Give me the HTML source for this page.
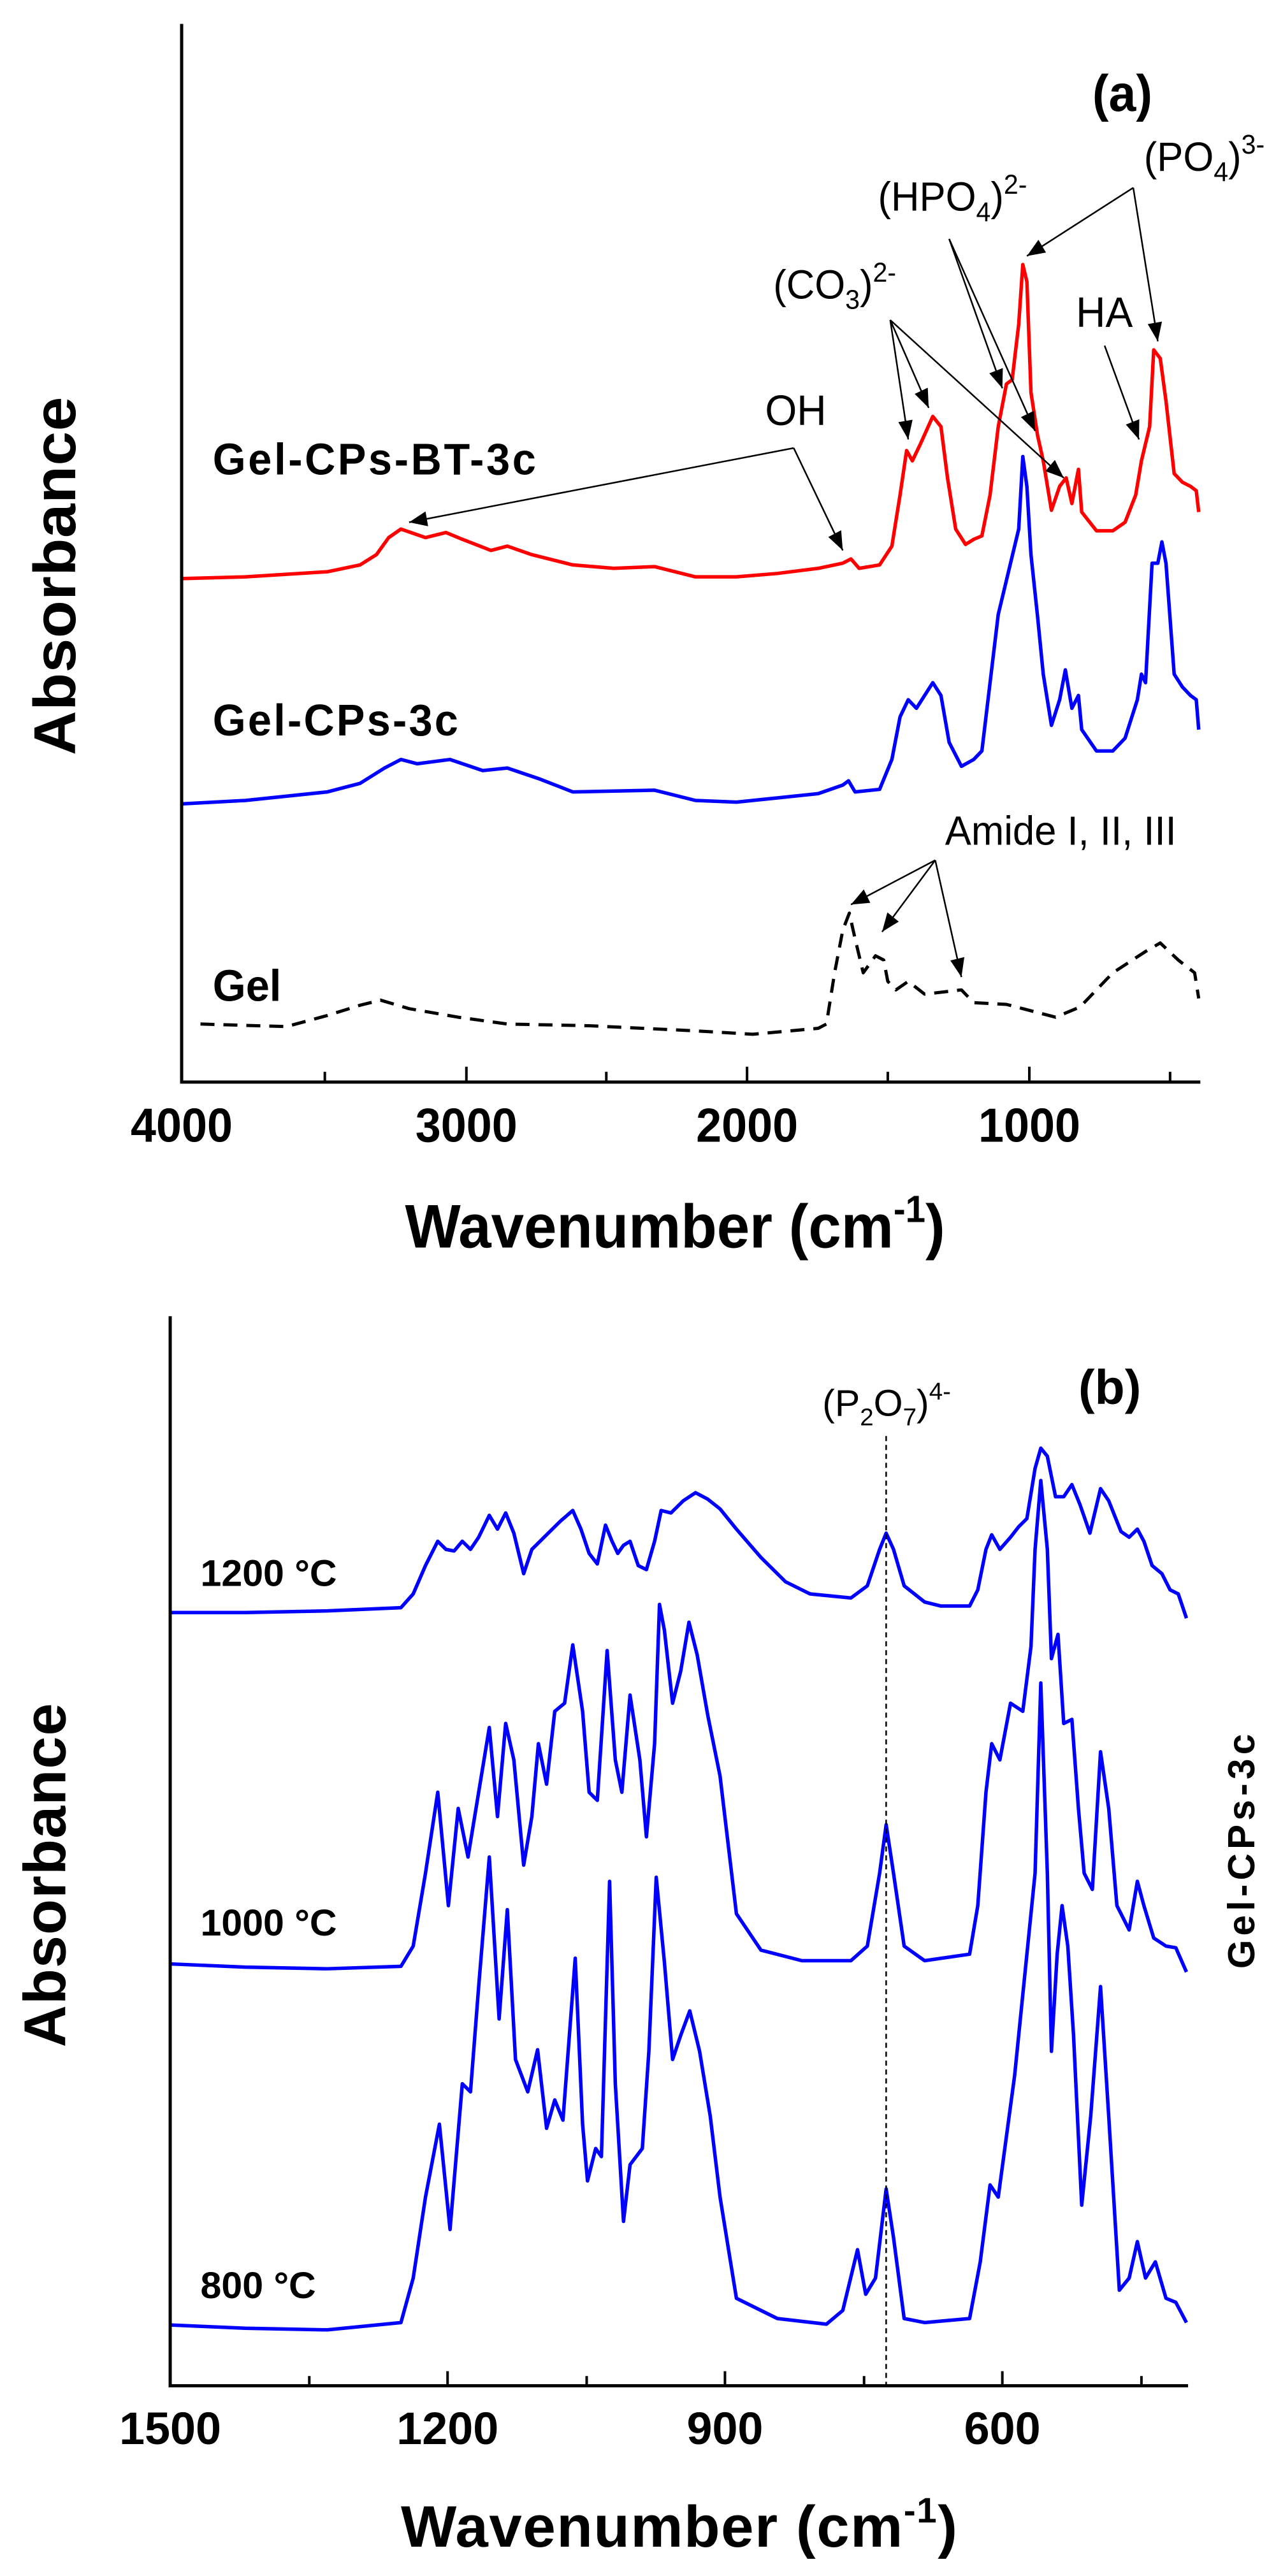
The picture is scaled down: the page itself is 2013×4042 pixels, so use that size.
<!DOCTYPE html>
<html><head><meta charset="utf-8"><style>html,body{margin:0;padding:0;background:#fff}svg{display:block}</style></head>
<body>
<svg width="2013" height="4042" viewBox="0 0 2013 4042" xmlns="http://www.w3.org/2000/svg" font-family="Liberation Sans, Arial, sans-serif">
<defs>
<marker id="ah2" viewBox="0 0 10 10" refX="10" refY="5" markerWidth="28" markerHeight="22" markerUnits="userSpaceOnUse" orient="auto"><path d="M0,1 L10,5 L0,9 z" fill="#000"/></marker>
</defs>
<!-- Panel A -->
<g transform="scale(1.2838,1.339)">
<g fill="none" stroke-linejoin="round">
<polyline vector-effect="non-scaling-stroke" stroke="#f00" stroke-width="5.5" points="222,678 300,676 400,670 440,662 460,650 475,630 490,620 505,625 520,630 545,624 565,632 600,645 620,640 650,650 700,662 750,666 800,664 850,676 900,676 950,672 1000,666 1030,660 1040,655 1050,666 1075,662 1090,640 1100,580 1108,528 1115,540 1125,520 1140,488 1150,500 1158,560 1168,620 1180,638 1190,632 1200,628 1210,580 1220,500 1230,450 1237,445 1245,380 1250,310 1255,330 1260,460 1268,510 1275,540 1285,598 1295,570 1303,560 1310,590 1318,550 1322,600 1340,622 1360,622 1375,612 1388,580 1395,540 1400,520 1405,500 1410,410 1418,420 1425,470 1435,555 1445,565 1455,570 1462,575 1465,600"/>
<polyline vector-effect="non-scaling-stroke" stroke="#00f" stroke-width="5.5" points="222,942 300,938 400,928 440,918 470,900 490,890 510,895 550,890 590,903 620,900 660,913 700,928 800,926 850,938 900,940 950,935 1000,930 1030,920 1037,915 1045,928 1075,925 1090,890 1100,840 1110,820 1120,830 1140,800 1150,815 1160,870 1175,898 1190,890 1200,880 1210,800 1220,720 1235,660 1245,620 1250,535 1255,570 1260,650 1268,722 1275,790 1285,850 1295,820 1302,785 1310,830 1318,815 1322,855 1340,880 1360,880 1375,865 1390,820 1395,790 1400,800 1408,660 1415,660 1420,635 1425,660 1435,790 1445,805 1455,815 1462,820 1465,855"/>
<polyline vector-effect="non-scaling-stroke" stroke="#000" stroke-width="5" stroke-dasharray="22,14" points="245,1200 350,1203 400,1190 440,1178 465,1172 500,1182 560,1192 620,1200 720,1202 850,1208 920,1212 1000,1205 1010,1200 1020,1140 1030,1090 1038,1070 1045,1100 1055,1140 1070,1120 1080,1125 1085,1150 1095,1160 1110,1150 1130,1165 1175,1160 1190,1175 1230,1177 1250,1182 1290,1192 1320,1180 1360,1140 1400,1115 1418,1105 1440,1125 1460,1140 1465,1170"/>
</g>
<g stroke="#000" fill="none">
<path vector-effect="non-scaling-stroke" stroke-width="5" d="M222,28 V1268 H1467"/>
<path vector-effect="non-scaling-stroke" stroke-width="4" d="M570,1268v-18 M913,1268v-18 M1258,1268v-18 M397,1268v-12 M741,1268v-12 M1085,1268v-12 M1430,1268v-12"/>
</g>
<g stroke="#000" stroke-width="2.5" fill="none">
<line vector-effect="non-scaling-stroke" x1="970" y1="525" x2="500" y2="612" marker-end="url(#ah2)"/>
<line vector-effect="non-scaling-stroke" x1="970" y1="525" x2="1030" y2="645" marker-end="url(#ah2)"/>
<line vector-effect="non-scaling-stroke" x1="1088" y1="375" x2="1110" y2="515" marker-end="url(#ah2)"/>
<line vector-effect="non-scaling-stroke" x1="1088" y1="375" x2="1135" y2="478" marker-end="url(#ah2)"/>
<line vector-effect="non-scaling-stroke" x1="1088" y1="375" x2="1300" y2="560" marker-end="url(#ah2)"/>
<line vector-effect="non-scaling-stroke" x1="1160" y1="280" x2="1225" y2="455" marker-end="url(#ah2)"/>
<line vector-effect="non-scaling-stroke" x1="1160" y1="280" x2="1265" y2="505" marker-end="url(#ah2)"/>
<line vector-effect="non-scaling-stroke" x1="1385" y1="220" x2="1255" y2="300" marker-end="url(#ah2)"/>
<line vector-effect="non-scaling-stroke" x1="1385" y1="220" x2="1415" y2="400" marker-end="url(#ah2)"/>
<line vector-effect="non-scaling-stroke" x1="1350" y1="405" x2="1392" y2="515" marker-end="url(#ah2)"/>
<line vector-effect="non-scaling-stroke" x1="1143" y1="1008" x2="1040" y2="1060" marker-end="url(#ah2)"/>
<line vector-effect="non-scaling-stroke" x1="1143" y1="1008" x2="1078" y2="1092" marker-end="url(#ah2)"/>
<line vector-effect="non-scaling-stroke" x1="1143" y1="1008" x2="1175" y2="1145" marker-end="url(#ah2)"/>
</g>
<g fill="#000">
<text x="1335" y="130" font-size="60" font-weight="bold">(a)</text>
<text x="1398" y="200" font-size="48">(PO<tspan font-size="32" dy="12">4</tspan><tspan dy="-12">)</tspan><tspan font-size="32" dy="-20">3-</tspan></text>
<text x="1073" y="247" font-size="48">(HPO<tspan font-size="32" dy="12">4</tspan><tspan dy="-12">)</tspan><tspan font-size="32" dy="-20">2-</tspan></text>
<text x="945" y="350" font-size="48">(CO<tspan font-size="32" dy="12">3</tspan><tspan dy="-12">)</tspan><tspan font-size="32" dy="-20">2-</tspan></text>
<text x="1315" y="383" font-size="50">HA</text>
<text x="935" y="498" font-size="50">OH</text>
<text x="1155" y="990" font-size="48">Amide I, II, III</text>
<text x="260" y="556" font-size="52" font-weight="bold" textLength="395">Gel-CPs-BT-3c</text>
<text x="260" y="862" font-size="52" font-weight="bold" textLength="300">Gel-CPs-3c</text>
<text x="260" y="1173" font-size="52" font-weight="bold">Gel</text>
<g font-size="56" font-weight="bold" text-anchor="middle">
<text x="222" y="1338">4000</text><text x="570" y="1338">3000</text><text x="913" y="1338">2000</text><text x="1258" y="1338">1000</text>
</g>
<text x="495" y="1462" font-size="72" font-weight="bold" textLength="660">Wavenumber (cm<tspan font-size="44" dy="-30">-1</tspan><tspan dy="30">)</tspan></text>
<text transform="translate(92,885) rotate(-90)" font-size="72" font-weight="bold" textLength="420">Absorbance</text>
</g>
</g>
<!-- Panel B -->
<g transform="translate(0,2050) scale(1.2838,1.2704)">
<g fill="none" stroke="#00f" stroke-width="5.5" stroke-linejoin="round">
<polyline vector-effect="non-scaling-stroke" points="208,378 300,378 400,376 490,372 505,355 520,320 535,290 545,300 555,302 565,290 575,300 585,285 598,258 608,275 618,255 628,280 640,330 650,300 660,290 670,280 685,265 700,252 710,275 720,305 730,318 740,270 748,290 755,305 762,295 770,290 780,320 790,325 800,290 808,252 820,255 835,240 850,230 865,238 880,250 900,275 930,310 960,340 990,355 1040,360 1060,345 1075,300 1083,280 1092,300 1105,345 1130,365 1150,370 1185,370 1195,350 1205,300 1212,282 1222,300 1235,285 1245,272 1255,262 1265,200 1272,175 1280,185 1290,235 1300,235 1310,220 1320,245 1332,280 1345,225 1355,240 1370,278 1380,285 1390,275 1398,290 1408,320 1420,330 1430,350 1440,355 1450,385"/>
<polyline vector-effect="non-scaling-stroke" points="208,812 300,816 400,818 490,815 505,790 520,700 535,600 548,740 560,620 572,680 585,600 598,520 608,630 618,515 628,560 640,690 650,630 658,540 668,590 678,500 690,490 700,418 712,500 720,600 730,610 742,425 752,560 760,600 770,480 782,560 790,655 800,540 806,368 812,400 822,490 832,450 842,390 852,430 865,505 880,580 900,750 930,795 980,808 1040,808 1060,790 1075,700 1083,640 1092,700 1105,790 1130,808 1185,800 1195,740 1205,600 1212,540 1222,560 1235,490 1250,500 1260,420 1265,300 1272,215 1280,300 1285,435 1293,405 1300,515 1310,510 1318,620 1325,700 1335,720 1345,550 1355,620 1365,740 1380,770 1390,710 1398,740 1410,780 1425,790 1437,792 1450,822"/>
<polyline vector-effect="non-scaling-stroke" points="208,1258 300,1262 400,1264 490,1255 505,1200 520,1100 537,1010 550,1140 565,960 575,970 585,840 598,680 610,880 620,745 630,930 645,970 657,918 668,1015 678,980 688,1005 703,805 712,1010 718,1080 728,1040 735,1050 745,710 752,960 762,1130 770,1060 785,1040 793,920 802,705 812,810 822,930 832,900 843,870 855,920 868,1000 880,1100 900,1225 950,1250 1010,1257 1030,1240 1048,1165 1058,1220 1070,1200 1083,1090 1092,1150 1105,1250 1130,1255 1185,1250 1198,1180 1210,1085 1220,1100 1240,950 1255,800 1265,700 1272,465 1280,700 1285,920 1292,800 1298,740 1305,790 1312,900 1322,1110 1333,1000 1345,840 1355,1000 1368,1215 1380,1200 1390,1155 1400,1200 1412,1180 1425,1225 1437,1230 1450,1255"/>
</g>
<line vector-effect="non-scaling-stroke" x1="1083" y1="160" x2="1083" y2="1333" stroke="#000" stroke-width="2.5" stroke-dasharray="8,6"/>
<g stroke="#000" fill="none">
<path vector-effect="non-scaling-stroke" stroke-width="5" d="M208,12 V1333 H1452"/>
<path vector-effect="non-scaling-stroke" stroke-width="4" d="M547,1333v-18 M886,1333v-18 M1225,1333v-18 M378,1333v-12 M717,1333v-12 M1056,1333v-12 M1395,1333v-12"/>
</g>
<g fill="#000">
<text x="1318" y="120" font-size="60" font-weight="bold">(b)</text>
<text x="1005" y="135" font-size="46">(P<tspan font-size="30" dy="12">2</tspan><tspan dy="-12">O</tspan><tspan font-size="30" dy="12">7</tspan><tspan dy="-12">)</tspan><tspan font-size="30" dy="-20">4-</tspan></text>
<text x="245" y="345" font-size="46" font-weight="bold">1200 °C</text>
<text x="245" y="777" font-size="46" font-weight="bold">1000 °C</text>
<text x="245" y="1225" font-size="46" font-weight="bold">800 °C</text>
<text transform="translate(1533,818) rotate(-90)" font-size="46" font-weight="bold" textLength="290">Gel-CPs-3c</text>
<g font-size="56" font-weight="bold" text-anchor="middle">
<text x="208" y="1405">1500</text><text x="547" y="1405">1200</text><text x="886" y="1405">900</text><text x="1225" y="1405">600</text>
</g>
<text x="490" y="1532" font-size="72" font-weight="bold" textLength="680">Wavenumber (cm<tspan font-size="44" dy="-30">-1</tspan><tspan dy="30">)</tspan></text>
<text transform="translate(80,915) rotate(-90)" font-size="72" font-weight="bold" textLength="425">Absorbance</text>
</g>
</g>
</svg>
</body></html>
